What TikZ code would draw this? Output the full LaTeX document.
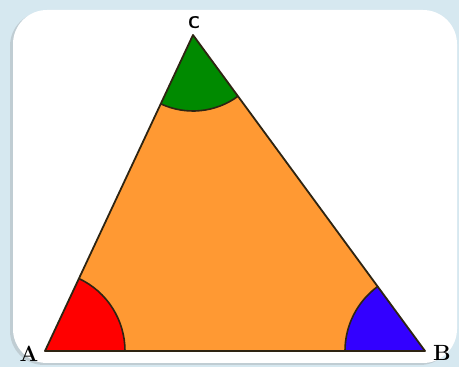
\documentclass[tikz,border=0pt]{standalone}
\usepackage{tikz}
\usetikzlibrary{angles,shadows}

\definecolor{bgblue}{HTML}{D6E8F0}
\definecolor{triorange}{HTML}{FF9933}
\definecolor{angred}{HTML}{FF0000}
\definecolor{angblue}{HTML}{3300FF}
\definecolor{anggreen}{HTML}{008A00}
\definecolor{edgedark}{HTML}{2E2412}

\begin{document}
\begin{tikzpicture}[x=1pt,y=1pt,
  card/.style={fill=white,rounded corners=34pt,
    drop shadow={shadow xshift=-3pt,shadow yshift=-2pt,opacity=0.25}},
  edge/.style={draw=edgedark,line width=1.8pt,line join=round},
  ang/.style={draw=edgedark,line width=1.6pt,angle radius=80pt},
  lbl/.style={font=\fontsize{22}{22}\selectfont\bfseries}]

  % background and card
  \fill[bgblue] (0,0) rectangle (459,367);
  \useasboundingbox (0,0) rectangle (459,367);
  \path[card] (13,4) rectangle (457,357);

  % vertices
  \coordinate (A) at (45,16);
  \coordinate (B) at (425,16);
  \coordinate (C) at (193,332);

  % triangle with its angles
  \fill[triorange] (A) -- (B) -- (C) -- cycle;
  \pic[ang,fill=angred] {angle=B--A--C};
  \pic[ang,fill=angblue] {angle=C--B--A};
  \pic[ang,fill=anggreen,angle radius=76pt] {angle=A--C--B};
  \draw[edge] (A) -- (B) -- (C) -- cycle;

  % labels
  \node[lbl] (la) at (29,13) {A};
  \node[lbl] (lb) at (442,14) {B};
  \node[font=\fontsize{17}{17}\selectfont\sffamily\bfseries] (lc) at (194,344) {C};
\end{tikzpicture}
\end{document}
